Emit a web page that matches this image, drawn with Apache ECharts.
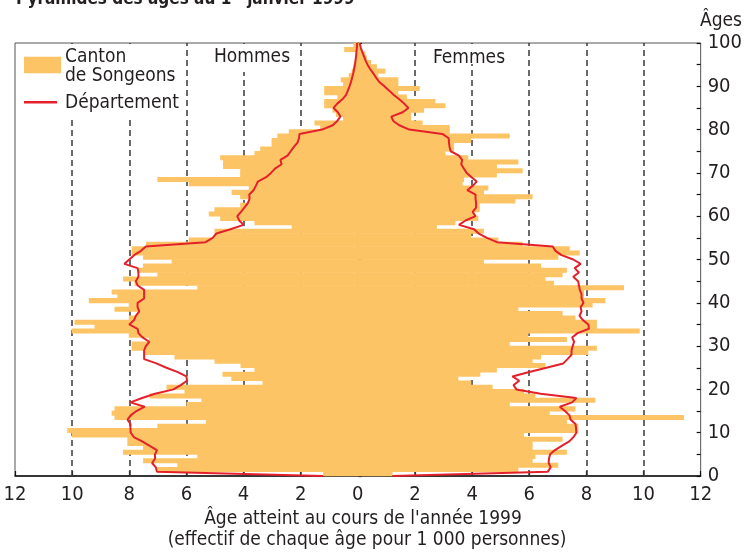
<!DOCTYPE html>
<html>
<head>
<meta charset="utf-8">
<script src="https://cdn.jsdelivr.net/npm/echarts@6/dist/echarts.min.js"></script>
<style>
html,body{margin:0;padding:0;background:#fff;}
#chart{width:745px;height:554px;}
</style>
</head>
<body>
<div id="chart"></div>
<script>
// Ages (one bar per age, 0..99); département line points at ages 0..100
const ages = Array.from({length: 100}, (_, i) => i);
const lineAges = Array.from({length: 101}, (_, i) => i);

// Canton de Songeons — Hommes (per 1 000 persons), ages 0..99
const cantonHommes = [
  1.2, 7.0, 6.3, 7.5, 5.6, 8.2, 7.5, 8.05, 8.05, 10.0,
  10.15, 7.0, 5.3, 8.5, 8.6, 8.5, 5.98, 5.46, 7.27, 6.05,
  6.68, 3.32, 4.41, 4.72, 3.6, 4.09, 5.0, 6.4, 7.5, 7.9,
  7.9, 7.3, 8.0, 10.0, 9.2, 9.9, 8.0, 7.7, 8.5, 8.0,
  9.4, 8.4, 8.6, 5.6, 7.8, 8.2, 7.0, 7.7, 7.5, 6.5,
  7.5, 7.9, 7.9, 7.4, 5.9, 5.0, 5.0, 2.3, 3.6, 4.8,
  5.2, 5.0, 4.1, 3.8, 4.1, 4.4, 3.8, 5.9, 7.0, 4.1,
  4.1, 4.7, 4.7, 4.8, 3.6, 3.4, 3.0, 3.0, 2.8, 2.4,
  1.3, 1.5, 0.5, 0.75, 0.87, 1.16, 1.16, 0.7, 1.16, 1.16,
  0.5, 0.58, 0.3, 0.2, 0.15, 0.1, 0.05, 0.05, 0.46, 0.14
];
// Canton de Songeons — Femmes, ages 0..99
const cantonFemmes = [
  1.2, 5.6, 7.0, 6.1, 6.2, 7.3, 6.1, 6.1, 7.15, 5.8,
  7.7, 7.7, 7.3, 11.4, 6.7, 7.6, 5.3, 8.3, 6.2, 5.8,
  4.7, 3.95, 3.5, 4.27, 4.85, 6.55, 6.1, 6.4, 8.05, 8.35,
  5.3, 7.3, 5.95, 9.85, 8.35, 8.35, 7.6, 7.15, 5.6, 8.2,
  8.65, 7.9, 7.9, 9.3, 6.85, 6.55, 7.15, 7.3, 6.4, 4.4,
  7.0, 7.75, 7.4, 5.75, 4.9, 3.95, 4.4, 2.75, 3.4, 4.2,
  4.05, 4.25, 4.25, 5.5, 6.1, 4.4, 4.55, 3.65, 3.7, 4.85,
  5.75, 4.85, 5.6, 3.85, 3.05, 3.35, 3.35, 3.95, 5.3, 3.2,
  3.2, 2.25, 1.85, 1.85, 2.3, 3.05, 2.7, 1.7, 1.4, 2.15,
  1.4, 1.4, 0.7, 0.95, 0.65, 0.45, 0.3, 0.25, 0.1, 0.06
];
// Département — Hommes, ages 0..100
const deptHommes = [
  1.22, 7.03, 7.07, 7.2, 7.1, 7.1, 7.03, 7.3, 7.55, 7.84,
  7.95, 7.96, 7.96, 8.06, 7.95, 7.75, 7.46, 7.96, 7.55, 7.1,
  6.45, 6.2, 5.98, 6.0, 6.3, 6.7, 7.05, 7.48, 7.48, 7.48,
  7.42, 7.30, 7.54, 7.68, 7.71, 8.0, 7.83, 7.77, 7.65, 7.71,
  7.71, 7.48, 7.48, 7.48, 7.71, 7.77, 7.68, 7.68, 7.71, 8.17,
  8.0, 7.83, 7.59, 7.42, 5.33, 5.08, 4.95, 4.46, 4.0, 4.15,
  4.22, 4.09, 3.97, 3.85, 3.79, 3.80, 3.65, 3.57, 3.50, 3.21,
  3.04, 2.90, 2.67, 2.71, 2.46, 2.35, 2.24, 2.11, 2.06, 2.04,
  1.25, 0.88, 0.72, 0.61, 0.70, 0.85, 0.72, 0.54, 0.41, 0.35,
  0.29, 0.24, 0.20, 0.16, 0.13, 0.10, 0.08, 0.06, 0.05, 0.03,
  0.03
];
// Département — Femmes, ages 0..100
const deptFemmes = [
  1.22, 6.65, 6.75, 6.68, 6.69, 6.73, 6.9, 7.15, 7.4, 7.55,
  7.65, 7.64, 7.62, 7.45, 7.41, 7.25, 7.07, 7.5, 7.65, 6.4,
  5.55, 5.45, 5.65, 5.41, 6.0, 6.6, 7.19, 7.34, 7.48, 7.48,
  7.52, 7.57, 7.50, 7.69, 8.09, 8.07, 7.88, 7.76, 7.83, 7.80,
  7.90, 7.83, 7.83, 7.77, 7.74, 7.71, 7.54, 7.74, 7.59, 7.80,
  7.54, 7.13, 6.92, 6.82, 4.87, 4.52, 4.23, 4.07, 3.54, 3.77,
  4.12, 4.02, 4.14, 4.14, 4.12, 4.12, 3.83, 4.02, 4.16, 3.98,
  3.81, 3.71, 3.62, 3.65, 3.54, 3.25, 3.21, 3.19, 3.18, 2.96,
  1.80, 1.45, 1.24, 1.17, 1.57, 1.77, 1.62, 1.45, 1.26, 1.10,
  0.93, 0.75, 0.64, 0.54, 0.43, 0.34, 0.27, 0.21, 0.15, 0.10,
  0.06
];
// Axis ticks / texts
const xTicks = [-12, -10, -8, -6, -4, -2, 0, 2, 4, 6, 8, 10, 12];
const gridValues = [-10, -8, -6, -4, -2, 2, 4, 6, 8, 10];
const seriesNames = ['Canton\nde Songeons', 'Département'];

const FONT = '"DejaVu Sans Condensed", "Liberation Sans Narrow", sans-serif';
const ORANGE = '#FCC465';
const RED = '#E4202A';
const TXT = '#231f20';

const chart = echarts.init(document.getElementById('chart'), null, {renderer: 'canvas'});

function barItem(params, api) {
  const a = api.value(0), v = api.value(1);
  const p0 = api.coord([0, a]);
  const p1 = api.coord([v, a + 1]);
  return {
    type: 'rect',
    shape: {
      x: Math.min(p0[0], p1[0]) - 0.5, y: p1[1] - 0.35,
      width: Math.abs(p1[0] - p0[0]) + 1, height: (p0[1] - p1[1]) + 0.7
    },
    style: {fill: ORANGE}
  };
}

const option = {
  animation: false,
  backgroundColor: '#fff',
  textStyle: {fontFamily: FONT},
  grid: {left: 15, right: 40, top: 43, bottom: 78, show: true, borderColor: '#555', borderWidth: 1},
  xAxis: {
    type: 'value', min: xTicks[0], max: xTicks[xTicks.length - 1], interval: 2,
    axisLine: {lineStyle: {color: '#111', width: 1.5}},
    axisTick: {inside: true, length: 5, lineStyle: {color: '#111', width: 1.2}},
    axisLabel: {formatter: v => String(Math.abs(v)), fontFamily: FONT, fontSize: 20, color: TXT, margin: 9},
    splitLine: {show: false}
  },
  yAxis: [
    {
      type: 'value', min: 0, max: 100, interval: 5, position: 'right',
      axisLine: {show: true, lineStyle: {color: '#111', width: 1.5}},
      axisTick: {show: true, inside: false, length: 4, lineStyle: {color: '#111', width: 1.2}},
      axisLabel: {formatter: v => (v % 10 === 0 ? String(v) : ''), fontFamily: FONT, fontSize: 20, color: TXT, margin: 7},
      splitLine: {show: false}
    },
    {
      type: 'value', min: 0, max: 100, interval: 5, position: 'right',
      axisLine: {show: false},
      axisTick: {show: true, inside: true, length: 4, lineStyle: {color: '#111', width: 1.2}},
      axisLabel: {show: false},
      splitLine: {show: false}
    }
  ],
  series: [
    {
      name: 'Canton H', type: 'custom', yAxisIndex: 0,
      data: ages.map((a, i) => [a, -cantonHommes[i]]),
      encode: {x: 1, y: 0},
      renderItem: barItem, z: 2,
      markLine: {
        silent: true, symbol: 'none', z: 1,
        label: {show: false},
        lineStyle: {color: '#3a3a3a', type: [6, 4], width: 1.5},
        data: gridValues.map(v => ({xAxis: v}))
      }
    },
    {
      name: 'Canton F', type: 'custom', yAxisIndex: 0,
      data: ages.map((a, i) => [a, cantonFemmes[i]]),
      encode: {x: 1, y: 0},
      renderItem: barItem, z: 2
    },
    {
      name: 'Dept H', type: 'line', yAxisIndex: 0,
      data: deptHommes.map((v, i) => [-v, lineAges[i]]),
      showSymbol: false, symbol: 'none',
      lineStyle: {color: RED, width: 2}, z: 4
    },
    {
      name: 'Dept F', type: 'line', yAxisIndex: 0,
      data: deptFemmes.map((v, i) => [v, lineAges[i]]),
      showSymbol: false, symbol: 'none',
      lineStyle: {color: RED, width: 2}, z: 4
    }
  ],
  graphic: [
    // title (cut off at the top of the picture)
    {type: 'text', left: 16, top: -9, z: 10,
      style: {text: 'Pyramides des âges au 1{s|er} janvier 1999', font: 'bold 17px ' + FONT, fill: TXT,
        rich: {s: {fontSize: 10, fontWeight: 'bold', verticalAlign: 'top', fontFamily: FONT, fill: TXT}}}},
    // "Âges" axis caption
    {type: 'text', right: 3, top: 12, z: 10,
      style: {text: 'Âges', font: '19px ' + FONT, fill: TXT}},
    // legend box
    {type: 'rect', z: 10, shape: {x: 16, y: 44, width: 164, height: 73}, style: {fill: '#fff'}},
    {type: 'rect', z: 11, shape: {x: 24, y: 56.7, width: 37, height: 16.6}, style: {fill: ORANGE}},
    {type: 'text', z: 11, left: 65, top: 48, style: {text: seriesNames[0], font: '19px ' + FONT, fill: TXT, lineHeight: 19}},
    {type: 'line', z: 11, shape: {x1: 24, y1: 102.3, x2: 57, y2: 102.3}, style: {stroke: RED, lineWidth: 2.5}},
    {type: 'text', z: 11, left: 65, top: 94, style: {text: seriesNames[1], font: '19px ' + FONT, fill: TXT}},
    // Hommes / Femmes
    {type: 'rect', z: 10, shape: {x: 208, y: 44, width: 86, height: 28}, style: {fill: '#fff'}},
    {type: 'text', z: 11, left: 214, top: 48, style: {text: 'Hommes', font: '19px ' + FONT, fill: TXT}},
    {type: 'rect', z: 10, shape: {x: 428, y: 44, width: 80, height: 20}, style: {fill: '#fff'}},
    {type: 'text', z: 11, left: 433, top: 49, style: {text: 'Femmes', font: '19px ' + FONT, fill: TXT}},
    // x-axis caption
    {type: 'text', z: 10, x: 363, y: 510,
      style: {text: "Âge atteint au cours de l'année 1999", font: '19px ' + FONT, fill: TXT, align: 'center', verticalAlign: 'top'}},
    {type: 'text', z: 10, x: 367, y: 531,
      style: {text: '(effectif de chaque âge pour 1 000 personnes)', font: '19px ' + FONT, fill: TXT, align: 'center', verticalAlign: 'top'}}
  ]
};
chart.setOption(option);
</script>
</body>
</html>
